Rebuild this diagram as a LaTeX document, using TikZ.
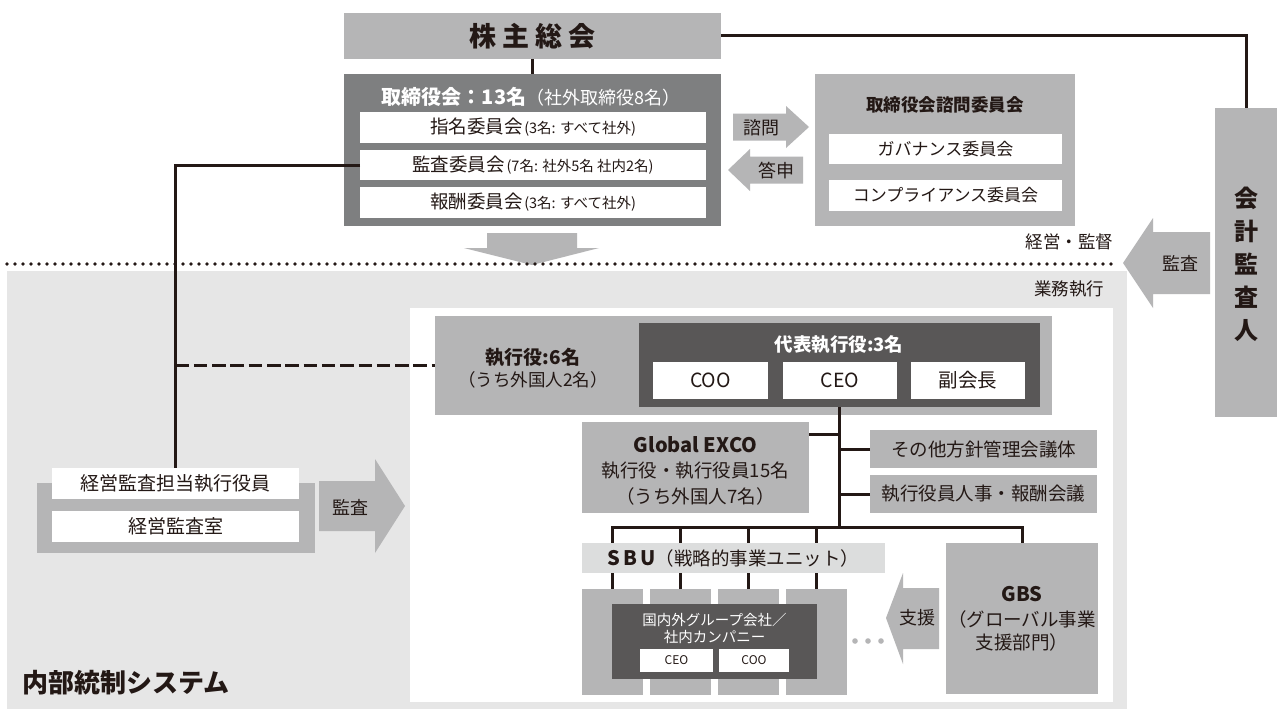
\documentclass[tikz,border=0pt]{standalone}
\usepackage{fontspec}
\setmainfont{Noto Sans CJK JP}
\usetikzlibrary{calc}
\definecolor{lgray}{HTML}{B5B5B6}
\definecolor{mgray}{HTML}{7E7F80}
\definecolor{dgray}{HTML}{595757}
\definecolor{bgc}{HTML}{E6E6E6}
\definecolor{sbuc}{HTML}{DCDDDD}
\definecolor{ink}{HTML}{231815}
\newcommand{\fsz}[2]{\fontsize{#1}{#2}\selectfont}
\begin{document}
\begin{tikzpicture}[x=1pt,y=-1pt,
  bx/.style={inner sep=0pt, outer sep=0pt, align=center, text=ink},
  tb/.style={bx, font=\fsz{18.5}{22}},
  conn/.style={draw=ink, line width=3pt},
  arrowfill/.style={fill=lgray}]
\useasboundingbox (0,0) rectangle (1277,709);
\fill[white] (0,0) rectangle (1277,709);

% ---------- lower region
\fill[bgc] (7,271) rectangle (1127,709);
\fill[white] (410,308) rectangle (1113,702);
\node[bx, anchor=east, font=\fsz{17.5}{20}] (gyomu) at (1104,289) {業務執行};

% ---------- top
\node[bx, fill=lgray, minimum width=377pt, minimum height=46pt, font=\fsz{27}{30}\bfseries] (kabu) at (532.5,36) {株\hspace{6pt}主\hspace{6pt}総\hspace{6pt}会};
\node[bx, fill=mgray, minimum width=377pt, minimum height=152pt] (tori) at (532.5,150) {};
\node[bx, text=white] (toriT) at (531,97) {{\fsz{20}{24}\bfseries 取締役会：13名}{\fsz{18}{22}（社外取締役8名）}};
\node[bx, fill=white, minimum width=346pt, minimum height=31pt] (shimei) at (533,127.5) {{\fsz{18.5}{22}指名委員会}\,{\fsz{14.5}{17}(3名: すべて社外)}};
\node[bx, fill=white, minimum width=346pt, minimum height=30pt] (kansaI) at (533,165) {{\fsz{18.5}{22}監査委員会}\,{\fsz{14.5}{17}(7名: 社外5名 社内2名)}};
\node[bx, fill=white, minimum width=346pt, minimum height=31pt] (hoshu) at (533,202.5) {{\fsz{18.5}{22}報酬委員会}\,{\fsz{14.5}{17}(3名: すべて社外)}};
\draw[conn] (kabu.south) -- (tori.north);

% down arrow
\fill[arrowfill] (487,233) -- (577,233) -- (577,248) -- (599,248) -- (532,265) -- (464,248) -- (487,248) -- cycle;

% advisory committees
\node[bx, fill=lgray, minimum width=260pt, minimum height=152pt] (shimon) at (945,150) {};
\node[bx, font=\fsz{17.5}{20}\bfseries] (shimonT) at (945,105) {取締役会諮問委員会};
\node[bx, fill=white, minimum width=233pt, minimum height=30pt, font=\fsz{17}{20}] (gov) at (945.5,149) {ガバナンス委員会};
\node[bx, fill=white, minimum width=233pt, minimum height=31pt, font=\fsz{17}{20}] (comp) at (945.5,195.5) {コンプライアンス委員会};

\fill[arrowfill] (733,113.5) -- (786,113.5) -- (786,106) -- (809,127) -- (786,148) -- (786,140.5) -- (733,140.5) -- cycle;
\node[tb, font=\fsz{18}{20}] (shimonA) at (761,128) {諮問};
\fill[arrowfill] (728,170) -- (750,149) -- (750,156.5) -- (803,156.5) -- (803,183.5) -- (750,183.5) -- (750,191) -- cycle;
\node[tb, font=\fsz{18}{20}] (toshinA) at (776,171) {答申};

% accounting auditor
\node[bx, fill=lgray, minimum width=62pt, minimum height=309pt] (kaikei) at (1246,262.5) {};
\node[bx, font=\fsz{24}{33}\bfseries] (kaikeiT) at (1246,264) {会\\計\\監\\査\\人};
\draw[conn] (kabu.east) -| (kaikei.north);
\fill[arrowfill] (1123,263) -- (1153,218) -- (1153,232) -- (1210,232) -- (1210,294) -- (1153,294) -- (1153,308) -- cycle;
\node[tb, font=\fsz{18}{20}] (kansaA2) at (1180,263) {監査};
\node[bx, anchor=east, font=\fsz{17.5}{20}] (keiei) at (1113,242) {経営・監督};

% dotted boundary
\draw[ink, line width=3.6pt, line cap=round, dash pattern=on 0pt off 8pt] (7,264) -- (1118,264);

% ---------- executive officers
\node[bx, fill=lgray, minimum width=617pt, minimum height=99pt] (shikko) at (743.5,365.5) {};
\node[bx, font=\fsz{19}{22}\bfseries] (shikkoT1) at (533,357) {執行役:6名};
\node[tb, font=\fsz{17.5}{20}] (shikkoT2) at (533,380) {（うち外国人2名）};
\node[bx, fill=dgray, minimum width=401pt, minimum height=84pt] (daihyo) at (839.5,365) {};
\node[bx, text=white, font=\fsz{18.5}{22}\bfseries] (daihyoT) at (839,345) {代表執行役:3名};
\node[bx, fill=white, minimum width=115pt, minimum height=37pt, font=\fsz{19.5}{22}] (coo) at (710.5,380.5) {COO};
\node[bx, fill=white, minimum width=114pt, minimum height=37pt, font=\fsz{19.5}{22}] (ceo) at (840,380.5) {CEO};
\node[bx, fill=white, minimum width=114pt, minimum height=37pt, font=\fsz{19.5}{22}] (fuku) at (968,380.5) {副会長};

% Global EXCO and councils
\node[bx, fill=lgray, minimum width=227pt, minimum height=91pt] (gexco) at (695.5,467.5) {};
\node[bx, font=\fsz{20}{22}\bfseries] (gexcoT1) at (695.5,445) {Global EXCO};
\node[tb] (gexcoT2) at (695.5,471) {執行役・執行役員15名};
\node[tb] (gexcoT3) at (695.5,496) {（うち外国人7名）};
\node[tb, fill=lgray, minimum width=227pt, minimum height=38pt] (sonota) at (983.5,449) {その他方針管理会議体};
\node[tb, fill=lgray, minimum width=227pt, minimum height=38pt] (jinji) at (983.5,494) {執行役員人事・報酬会議};

% SBU columns
\node[bx, fill=lgray, minimum width=61pt, minimum height=106pt] (col1) at (612.5,642) {};
\node[bx, fill=lgray, minimum width=61pt, minimum height=106pt] (col2) at (680.5,642) {};
\node[bx, fill=lgray, minimum width=61pt, minimum height=106pt] (col3) at (748.5,642) {};
\node[bx, fill=lgray, minimum width=61pt, minimum height=106pt] (col4) at (816.5,642) {};
\node[bx, fill=dgray, minimum width=205pt, minimum height=75pt] (grp) at (714.5,641.5) {};
\node[bx, text=white, font=\fsz{14.5}{17}] (grpT) at (714.5,628.5) {国内外グループ会社／\\社内カンパニー};
\node[bx, fill=white, minimum width=73pt, minimum height=23pt, font=\fsz{12}{14}] (gceo) at (676.5,660.5) {CEO};
\node[bx, fill=white, minimum width=70pt, minimum height=23pt, font=\fsz{12}{14}] (gcoo) at (754,660.5) {COO};

% GBS
\node[bx, fill=lgray, minimum width=152pt, minimum height=151pt] (gbs) at (1022,618.5) {};
\node[bx, font=\fsz{20}{22}\bfseries] (gbsT1) at (1022,594) {GBS};
\node[tb] (gbsT2) at (1022,619) {（グローバル事業};
\node[tb] (gbsT3) at (1022,642) {支援部門）};
\fill[arrowfill] (886,618) -- (903,573) -- (903,588) -- (939,588) -- (939,649) -- (903,649) -- (903,664) -- cycle;
\node[tb, font=\fsz{18}{20}] (shienA) at (917,618) {支援};
\fill[lgray] (855,641) circle (2.8) (868,641) circle (2.8) (881,641) circle (2.8);

% connectors of execution
\coordinate (bus) at (0,527);
\coordinate (gy) at (0,434);
\draw[conn] (daihyo.south) -- (daihyo.south |- bus);
\draw[conn] (gexco.east |- gy) -- (daihyo.south |- gy);
\draw[conn] (sonota.west) -- (sonota.west -| daihyo.south);
\draw[conn] (jinji.west) -- (jinji.west -| daihyo.south);
\draw[conn] (col1.north) -- (col1.north |- bus) -| (gbs.north);
\draw[conn] (col2.north) -- (col2.north |- bus);
\draw[conn] (col3.north) -- (col3.north |- bus);
\draw[conn] (col4.north) -- (col4.north |- bus);

\node[bx, fill=sbuc, minimum width=303pt, minimum height=30pt] (sbu) at (733.5,558) {{\fsz{20}{22}\bfseries S\hspace{3pt}B\hspace{3pt}U}{\fsz{18.5}{22}（戦略的事業ユニット）}};

% ---------- internal audit
\node[bx, fill=lgray, minimum width=278pt, minimum height=70pt] (kgroup) at (176,518) {};
\node[tb, fill=white, minimum width=247pt, minimum height=31pt, font=\fsz{19}{22}] (kyakuin) at (175.5,483.5) {経営監査担当執行役員};
\node[tb, fill=white, minimum width=247pt, minimum height=31pt, font=\fsz{19}{22}] (kshitsu) at (175.5,526.5) {経営監査室};
\fill[arrowfill] (319,481) -- (375,481) -- (375,459) -- (405,506) -- (375,553) -- (375,531) -- (319,531) -- cycle;
\node[tb, font=\fsz{18}{20}] (kansaA1) at (350,507) {監査};

\draw[conn] (kansaI.west) -| (kyakuin.north);
\draw[conn, dash pattern=on 13.5pt off 4.8pt] (kyakuin.north |- shikko.west) -- (shikko.west);

\node[bx, anchor=west, font=\fsz{26}{30}\bfseries] (naibu) at (22,683) {内部統制システム};
\end{tikzpicture}
\end{document}
